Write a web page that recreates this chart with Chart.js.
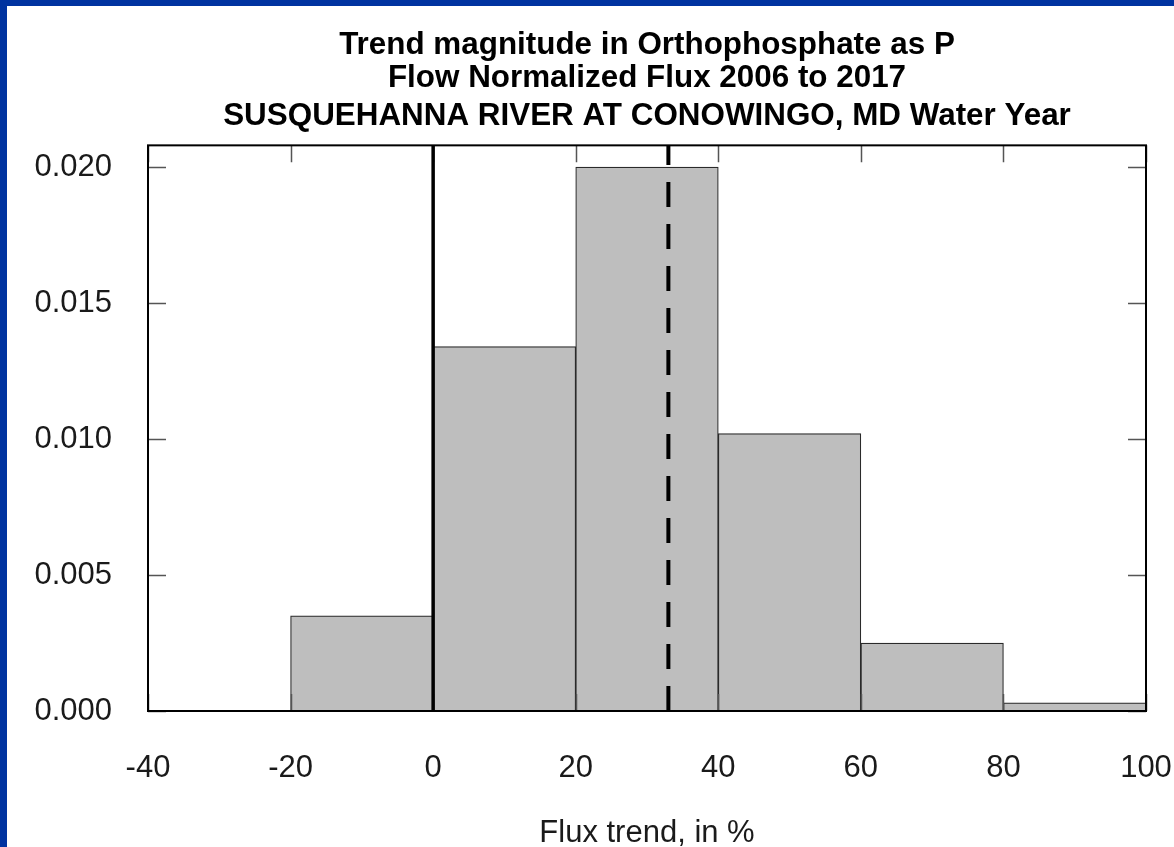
<!DOCTYPE html>
<html>
<head>
<meta charset="utf-8">
<title>Trend magnitude in Orthophosphate as P</title>
<script src="https://cdn.jsdelivr.net/npm/chart.js@4.4.1/dist/chart.umd.min.js"></script>
<style>
    html, body { margin: 0; padding: 0; background: #fff; }
    body { width: 1174px; height: 847px; overflow: hidden; position: relative; }
    .edge-left { position: absolute; left: 0; top: 0; width: 7px; height: 847px; background: #0033a0; }
    .edge-top { position: absolute; left: 0; top: 0; width: 1174px; height: 6px; background: #0033a0; }
    #wrap { position: absolute; left: 7px; top: 6px; width: 1167px; height: 841px; }
</style>
</head>
<body>
<div class="edge-left"></div>
<div class="edge-top"></div>
<div id="wrap"><canvas id="histCanvas"></canvas></div>
<script>
// ========== DATA ==========
const binStarts = [-20, 0, 20, 40, 60, 80];
const binWidth = 20;
const density = [0.0035, 0.0134, 0.0200, 0.0102, 0.0025, 0.0003];
const xTicks = [-40, -20, 0, 20, 40, 60, 80, 100];
const yTicks = [0.000, 0.005, 0.010, 0.015, 0.020];
const zeroLine = 0;
const meanTrend = 33;

const FONT = "'Liberation Sans', Arial, Helvetica, sans-serif";
Chart.defaults.font.family = FONT;

// ========== FRAME, INWARD TICKS, REFERENCE LINES ==========
const frameLines = {
    id: 'frameLines',
    afterDatasetsDraw(chart) {
        const { ctx, chartArea: a, scales: { x, y } } = chart;
        ctx.save();

        // R style ticks, pointing into the box on all four sides
        ctx.strokeStyle = '#555';
        ctx.lineWidth = 1.5;
        ctx.beginPath();
        yTicks.forEach(v => {
            const py = Math.round(y.getPixelForValue(v)) + 0.5;
            ctx.moveTo(a.left, py); ctx.lineTo(a.left + 18, py);
            ctx.moveTo(a.right, py); ctx.lineTo(a.right - 18, py);
        });
        xTicks.forEach(v => {
            const px = Math.round(x.getPixelForValue(v)) + 0.5;
            ctx.moveTo(px, a.top); ctx.lineTo(px, a.top + 17);
            ctx.moveTo(px, a.bottom); ctx.lineTo(px, a.bottom - 17);
        });
        ctx.stroke();

        // zero line
        ctx.strokeStyle = '#000';
        ctx.lineWidth = 3.5;
        const zx = x.getPixelForValue(zeroLine);
        ctx.beginPath();
        ctx.moveTo(zx, a.bottom); ctx.lineTo(zx, a.top);
        ctx.stroke();

        // trend line, dashed
        const mx = x.getPixelForValue(meanTrend);
        ctx.lineWidth = 4;
        ctx.setLineDash([25, 17]);
        ctx.beginPath();
        ctx.moveTo(mx, a.bottom); ctx.lineTo(mx, a.top);
        ctx.stroke();

        // box
        ctx.setLineDash([]);
        ctx.lineWidth = 2;
        ctx.strokeRect(a.left, a.top, a.width, a.height);
        ctx.restore();
    }
};

// ========== CHART ==========
const ctx = document.getElementById('histCanvas').getContext('2d');
new Chart(ctx, {
    type: 'bar',
    data: {
        datasets: [{
            data: binStarts.map((s, i) => ({ x: s + binWidth / 2, y: density[i] })),
            backgroundColor: '#bebebe',
            borderColor: '#2a2a2a',
            borderWidth: 1.2,
            borderSkipped: false,
            barPercentage: 1,
            categoryPercentage: 1
        }]
    },
    options: {
        responsive: true,
        maintainAspectRatio: false,
        animation: false,
        layout: { padding: { left: 0, right: 28, top: 0, bottom: 0 } },
        plugins: {
            legend: { display: false },
            tooltip: { enabled: false },
            title: {
                display: true,
                fullSize: false,
                text: ['Trend magnitude in Orthophosphate as P', 'Flow Normalized Flux 2006 to 2017'],
                color: '#000',
                font: { size: 31.4, weight: 'bold', lineHeight: 1.06 },
                padding: { top: 22.5, bottom: 0 }
            },
            subtitle: {
                display: true,
                fullSize: false,
                text: 'SUSQUEHANNA RIVER AT CONOWINGO, MD Water Year',
                color: '#000',
                font: { size: 31.4, weight: 'bold', lineHeight: 1.06 },
                padding: { top: 5, bottom: 12 }
            }
        },
        scales: {
            x: {
                type: 'linear',
                min: -40,
                max: 100,
                offset: false,
                grid: { display: false, drawTicks: false, offset: false },
                border: { display: false },
                afterBuildTicks: s => { s.ticks = xTicks.map(v => ({ value: v })); },
                afterFit: s => { s.height = 136; s.paddingLeft = 0; s.paddingRight = 0; },
                ticks: {
                    color: '#1a1a1a',
                    font: { size: 31 },
                    padding: 39,
                    maxRotation: 0,
                    autoSkip: false,
                    callback: v => String(v)
                },
                title: {
                    display: true,
                    text: 'Flux trend, in %',
                    color: '#1a1a1a',
                    font: { size: 31, lineHeight: 1 },
                    padding: { top: 0, bottom: -2 }
                }
            },
            y: {
                min: 0,
                max: 0.0208,
                grid: { display: false, drawTicks: false },
                border: { display: false },
                afterBuildTicks: s => { s.ticks = yTicks.map(v => ({ value: v })); },
                afterFit: s => { s.width = 141; },
                ticks: {
                    color: '#1a1a1a',
                    font: { size: 31 },
                    padding: 36,
                    autoSkip: false,
                    callback: v => v.toFixed(3)
                }
            }
        }
    },
    plugins: [frameLines]
});
</script>
</body>
</html>
